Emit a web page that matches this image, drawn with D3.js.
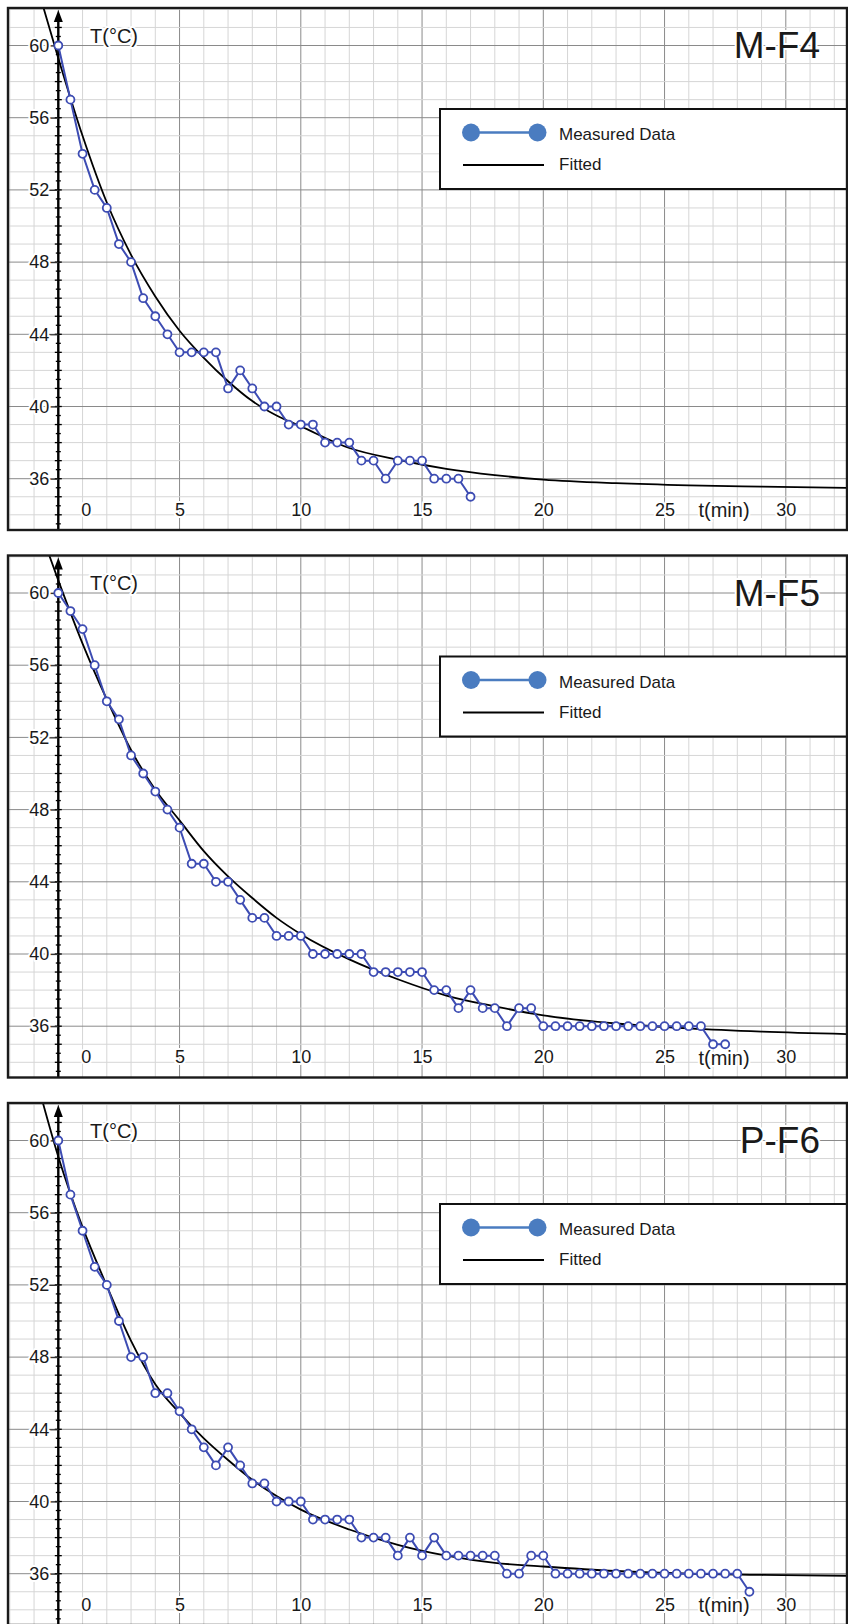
<!DOCTYPE html>
<html>
<head>
<meta charset="utf-8">
<script src="https://cdn.jsdelivr.net/npm/d3@7"></script>
<style>
  body { margin: 0; background: #fff; overflow: hidden; }
  text { font-family: "Liberation Sans", Arial, sans-serif; fill: #1a1a1a; }
  .halo { paint-order: stroke; stroke: #fff; stroke-width: 4px; stroke-linejoin: round; }
</style>
</head>
<body>
<div id="chart"></div>
<script>
// sample times (min) of the measured series, every half minute
const sampleTimes = [0, 0.5, 1, 1.5, 2, 2.5, 3, 3.5, 4, 4.5, 5, 5.5, 6, 6.5, 7, 7.5, 8, 8.5, 9, 9.5,
  10, 10.5, 11, 11.5, 12, 12.5, 13, 13.5, 14, 14.5, 15, 15.5, 16, 16.5, 17, 17.5, 18, 18.5, 19, 19.5,
  20, 20.5, 21, 21.5, 22, 22.5, 23, 23.5, 24, 24.5, 25, 25.5, 26, 26.5, 27, 27.5, 28, 28.5];

const mf4Temps = [60, 57, 54, 52, 51, 49, 48, 46, 45, 44, 43, 43, 43, 43, 41, 42, 41, 40, 40, 39,
  39, 39, 38, 38, 38, 37, 37, 36, 37, 37, 37, 36, 36, 36, 35];
const mf5Temps = [60, 59, 58, 56, 54, 53, 51, 50, 49, 48, 47, 45, 45, 44, 44, 43, 42, 42, 41, 41,
  41, 40, 40, 40, 40, 40, 39, 39, 39, 39, 39, 38, 38, 37, 38, 37, 37, 36, 37, 37,
  36, 36, 36, 36, 36, 36, 36, 36, 36, 36, 36, 36, 36, 36, 35, 35];
const pf6Temps = [60, 57, 55, 53, 52, 50, 48, 48, 46, 46, 45, 44, 43, 42, 43, 42, 41, 41, 40, 40,
  40, 39, 39, 39, 39, 38, 38, 38, 37, 38, 37, 38, 37, 37, 37, 37, 37, 36, 36, 37,
  37, 36, 36, 36, 36, 36, 36, 36, 36, 36, 36, 36, 36, 36, 36, 36, 36, 35];

// fitted curves at these times
const fitTimes = [-0.7, 0, 1, 2, 3, 4, 5, 6, 7, 8, 9, 10, 12, 14, 16, 18, 20, 23, 26, 29, 33];
const mf4Fit = [62.5, 59.3, 55.0, 51.3, 48.4, 46.1, 44.2, 42.7, 41.4, 40.3, 39.5, 38.9, 37.7, 37.05,
  36.55, 36.2, 35.95, 35.75, 35.63, 35.56, 35.48];
const mf5Fit = [63.3, 60.7, 57.2, 54.1, 51.3, 49.1, 47.4, 45.7, 44.3, 43.1, 42.0, 41.1, 39.7, 38.6,
  37.7, 37.1, 36.6, 36.15, 35.88, 35.7, 35.55];
const pf6Fit = [62.4, 59.1, 55.2, 51.95, 48.9, 46.5, 44.9, 43.5, 42.3, 41.2, 40.3, 39.55, 38.45, 37.6,
  37.0, 36.6, 36.4, 36.15, 36.0, 35.93, 35.88];

const panelNames = ["M-F4", "M-F5", "P-F6"];
const panelTemps = [mf4Temps, mf5Temps, pf6Temps];
const panelFits = [mf4Fit, mf5Fit, pf6Fit];

const xTicks = [0, 5, 10, 15, 20, 25, 30];
const yTicks = [36, 40, 44, 48, 52, 56, 60];
const xGrid = d3.range(-2, 33);      // one line per minute
const yGrid = d3.range(34, 63);      // one line per degree
const yMinorTicks = d3.range(33.5, 62, 0.5);

const legendLabels = ["Measured Data", "Fitted"];

class CoolingCharts {

  constructor() {
    this.width = 848;
    this.height = 1624;
    this.panelTops = [8, 555.5, 1103];
    this.panelLeft = 8;
    this.panelRight = 847;
    this.panelHeight = 522;

    this.svg = d3.select("#chart").append("svg")
      .attr("width", this.width)
      .attr("height", this.height);

    //same scales for every panel, drawn in panel coordinates
    this.x = d3.scaleLinear().domain([0, 30]).range([58.3, 58.3 + 30 * 24.25]);
    this.y = d3.scaleLinear().domain([36, 60]).range([37.5 + 24 * 18.05, 37.5]);

    this.svg.append("defs").append("clipPath")
      .attr("id", "panelClip")
      .append("rect")
      .attr("x", this.panelLeft)
      .attr("y", 0)
      .attr("width", this.panelRight - this.panelLeft)
      .attr("height", this.panelHeight);
  }

  drawPanel(i) {
    let x = this.x, y = this.y;
    let H = this.panelHeight;
    let g = this.svg.append("g").attr("transform", "translate(0," + this.panelTops[i] + ")");

    let grid = g.append("g").attr("clip-path", "url(#panelClip)");
    grid.selectAll(".vgrid").data(xGrid).enter().append("line")
      .attr("x1", d => x(d)).attr("x2", d => x(d))
      .attr("y1", 0).attr("y2", H)
      .attr("stroke", d => d % 5 == 0 ? "#8a8a8a" : "#d6d6d6")
      .attr("stroke-width", 1);
    grid.selectAll(".hgrid").data(yGrid).enter().append("line")
      .attr("x1", this.panelLeft).attr("x2", this.panelRight)
      .attr("y1", d => y(d)).attr("y2", d => y(d))
      .attr("stroke", d => (d % 4 == 0 && d >= 36) ? "#8a8a8a" : "#d6d6d6")
      .attr("stroke-width", 1);

    //y axis with arrow
    let x0 = x(0);
    g.append("line")
      .attr("x1", x0).attr("x2", x0)
      .attr("y1", H).attr("y2", 8)
      .attr("stroke", "#000").attr("stroke-width", 2.4);
    g.append("path")
      .attr("d", "M" + x0 + ",2 L" + (x0 - 4.5) + ",14 L" + (x0 + 4.5) + ",14 Z")
      .attr("fill", "#000");
    g.selectAll(".ytick").data(yMinorTicks).enter().append("line")
      .attr("x1", d => x0 - (d % 1 == 0 ? 3.5 : 2.5))
      .attr("x2", d => x0 + (d % 1 == 0 ? 3.5 : 2.5))
      .attr("y1", d => y(d)).attr("y2", d => y(d))
      .attr("stroke", "#000").attr("stroke-width", 1.3);

    let yAxis = g.append("g")
      .attr("transform", "translate(" + x0 + ",0)")
      .call(d3.axisLeft(y).tickValues(yTicks).tickSizeInner(9).tickSizeOuter(0).tickPadding(0));
    yAxis.select(".domain").remove();
    yAxis.selectAll("line").attr("stroke", "#333").attr("stroke-width", 1.2);
    yAxis.selectAll("text")
      .attr("class", "halo")
      .attr("font-size", 18)
      .attr("font-family", "Liberation Sans, Arial, sans-serif")
      .attr("fill", "#222");

    let xAxis = g.append("g")
      .attr("transform", "translate(0," + (H - 27) + ")")
      .call(d3.axisBottom(x).tickValues(xTicks).tickSize(0).tickPadding(0));
    xAxis.select(".domain").remove();
    xAxis.selectAll("text")
      .attr("class", "halo")
      .attr("font-size", 18)
      .attr("font-family", "Liberation Sans, Arial, sans-serif")
      .attr("fill", "#222")
      .attr("dx", d => d == 0 ? 27.5 : 0);

    g.append("text")
      .attr("class", "halo")
      .attr("x", 724).attr("y", H - 13)
      .attr("text-anchor", "middle")
      .attr("font-size", 20)
      .text("t(min)");
    g.append("text")
      .attr("class", "halo")
      .attr("x", 90).attr("y", 34.5)
      .attr("font-size", 20)
      .text("T(°C)");
    g.append("text")
      .attr("class", "halo")
      .attr("x", 820).attr("y", 50)
      .attr("text-anchor", "end")
      .attr("font-size", 37)
      .text(panelNames[i]);

    //fitted curve
    let fitData = fitTimes.map((t, k) => ({ t: t, v: panelFits[i][k] }));
    g.append("path")
      .datum(fitData)
      .attr("clip-path", "url(#panelClip)")
      .attr("d", d3.line().x(d => x(d.t)).y(d => y(d.v)).curve(d3.curveMonotoneX))
      .attr("fill", "none")
      .attr("stroke", "#000")
      .attr("stroke-width", 1.8);

    //measured data
    let data = panelTemps[i].map((v, k) => ({ t: sampleTimes[k], v: v }));
    g.append("path")
      .datum(data)
      .attr("d", d3.line().x(d => x(d.t)).y(d => y(d.v)))
      .attr("fill", "none")
      .attr("stroke", "#3d4cb3")
      .attr("stroke-width", 2);
    g.selectAll(".pt").data(data).enter().append("circle")
      .attr("cx", d => x(d.t))
      .attr("cy", d => y(d.v))
      .attr("r", 4)
      .attr("fill", "#fff")
      .attr("stroke", "#3d4cb3")
      .attr("stroke-width", 1.8);

    //legend
    let lg = g.append("g");
    lg.append("rect")
      .attr("x", 440).attr("y", 101)
      .attr("width", this.panelRight - 440).attr("height", 80)
      .attr("fill", "#fff")
      .attr("stroke", "#111").attr("stroke-width", 2);
    lg.append("line")
      .attr("x1", 471).attr("x2", 537.5)
      .attr("y1", 124.5).attr("y2", 124.5)
      .attr("stroke", "#4a7cc0").attr("stroke-width", 2.5);
    lg.selectAll(".lgdot").data([471, 537.5]).enter().append("circle")
      .attr("cx", d => d).attr("cy", 124.5).attr("r", 9)
      .attr("fill", "#4a7cc0");
    lg.append("line")
      .attr("x1", 463).attr("x2", 544)
      .attr("y1", 157).attr("y2", 157)
      .attr("stroke", "#000").attr("stroke-width", 2);
    lg.selectAll(".lgtext").data(legendLabels).enter().append("text")
      .attr("x", 559)
      .attr("y", (d, k) => 132 + k * 30)
      .attr("font-size", 17)
      .text(d => d);

    //panel frame
    g.append("rect")
      .attr("x", this.panelLeft).attr("y", 0)
      .attr("width", this.panelRight - this.panelLeft).attr("height", H)
      .attr("fill", "none")
      .attr("stroke", "#1a1a1a").attr("stroke-width", 2.4);
  }

  draw() {
    for (let i = 0; i < panelNames.length; i++) {
      this.drawPanel(i);
    }
  }
}

new CoolingCharts().draw();
</script>
</body>
</html>
